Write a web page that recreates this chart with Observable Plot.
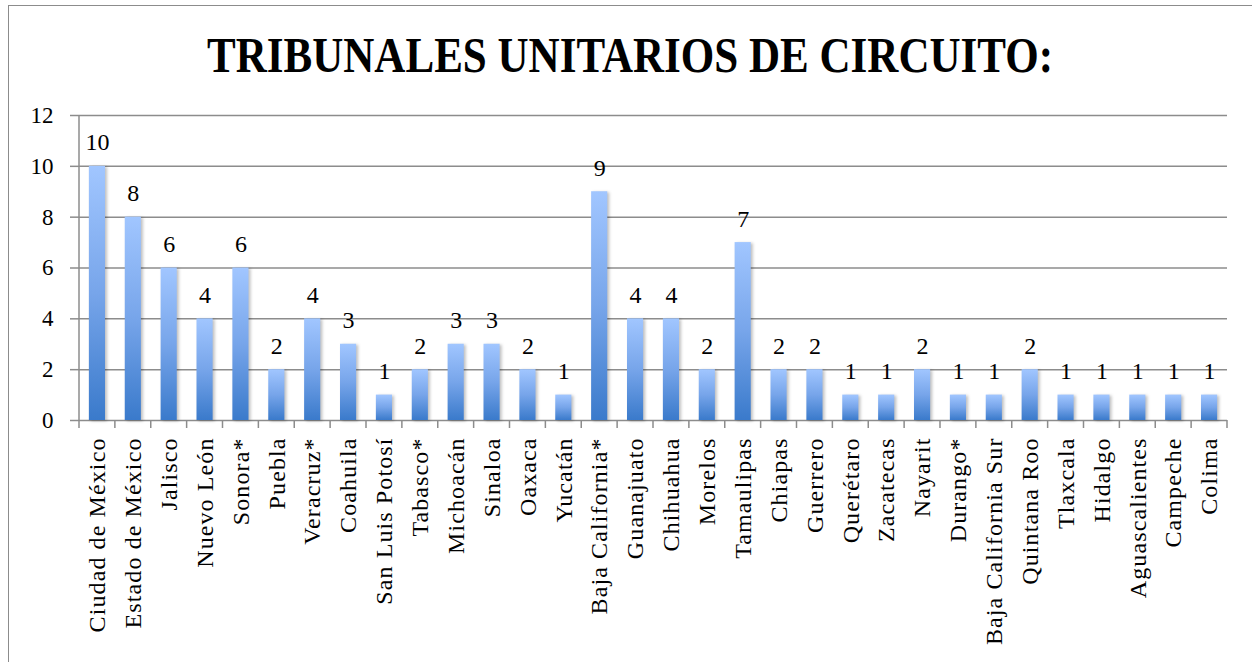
<!DOCTYPE html>
<html>
<head>
<meta charset="utf-8">
<script src="https://cdn.jsdelivr.net/npm/d3@7"></script>
<script src="https://cdn.jsdelivr.net/npm/@observablehq/plot@0.6"></script>
<style>
  body { margin: 0; background: #fff; width: 1252px; height: 662px; overflow: hidden; position: relative; }
  #frame { position: absolute; left: 8px; top: 5px; width: 1300px; height: 720px; border: 1.5px solid #8c8c8c; box-sizing: border-box; }
  #title { position: absolute; left: 0; top: 0; }
  #chart { position: absolute; left: 0; top: 100px; }
  #chart svg, #chart text { font-family: "Liberation Serif", serif !important; }
  g[fill="url(#barGrad)"] rect { filter: drop-shadow(2px 1px 1.5px rgba(0,0,0,0.25)); }
  #chart g[aria-label="x-axis tick label"] text { letter-spacing: 1.1px; }
</style>
</head>
<body>
<div id="frame"></div>
<svg id="title" width="1252" height="100">
  <text x="630" y="72" text-anchor="middle" textLength="846" lengthAdjust="spacingAndGlyphs"
        font-family="Liberation Serif" font-weight="bold" font-size="50" fill="#000">TRIBUNALES UNITARIOS DE CIRCUITO:</text>
</svg>
<div id="chart"></div>
<script>
const categories = ["Ciudad de México","Estado de México","Jalisco","Nuevo León","Sonora*","Puebla","Veracruz*","Coahuila","San Luis Potosí","Tabasco*","Michoacán","Sinaloa","Oaxaca","Yucatán","Baja California*","Guanajuato","Chihuahua","Morelos","Tamaulipas","Chiapas","Guerrero","Querétaro","Zacatecas","Nayarit","Durango*","Baja California Sur","Quintana Roo","Tlaxcala","Hidalgo","Aguascalientes","Campeche","Colima"];
const values = [10,8,6,4,6,2,4,3,1,2,3,3,2,1,9,4,4,2,7,2,2,1,1,2,1,1,2,1,1,1,1,1];
const yTicks = [0,2,4,6,8,10,12];

const data = categories.map((name, i) => ({name, value: values[i]}));
const FONT = "Liberation Serif";
const GRID = "#8c8c8c";

function defsMark() {
  const ns = "http://www.w3.org/2000/svg";
  const g = document.createElementNS(ns, "g");
  const defs = document.createElementNS(ns, "defs");
  const lg = document.createElementNS(ns, "linearGradient");
  lg.setAttribute("id", "barGrad");
  lg.setAttribute("x1", "0"); lg.setAttribute("y1", "0");
  lg.setAttribute("x2", "0"); lg.setAttribute("y2", "1");
  [["0%", "#a1c6ff"], ["50%", "#77a5ea"], ["100%", "#3a7acb"]].forEach(([o, c]) => {
    const s = document.createElementNS(ns, "stop");
    s.setAttribute("offset", o); s.setAttribute("stop-color", c);
    lg.appendChild(s);
  });
  defs.appendChild(lg);
  g.appendChild(defs);
  return g;
}

// y-axis line and category-boundary ticks, placed from the x scale
function frameTicks(index, scales, values, dims) {
  const ns = "http://www.w3.org/2000/svg";
  const g = document.createElementNS(ns, "g");
  g.setAttribute("stroke", GRID);
  g.setAttribute("stroke-width", "1.5");
  const left = dims.marginLeft, right = dims.width - dims.marginRight;
  const top = dims.marginTop, bottom = dims.height - dims.marginBottom;
  const line = (x1, y1, x2, y2) => {
    const l = document.createElementNS(ns, "line");
    l.setAttribute("x1", x1); l.setAttribute("y1", y1);
    l.setAttribute("x2", x2); l.setAttribute("y2", y2);
    g.appendChild(l);
  };
  line(left, top, left, bottom);
  const bw = scales.x.bandwidth ? scales.x.bandwidth() : 0;
  const centers = categories.map(c => scales.x(c) + bw / 2);
  const step = centers.length > 1 ? centers[1] - centers[0] : (right - left);
  line(centers[0] - step / 2, bottom, centers[0] - step / 2, bottom + 8);
  centers.forEach(cx => line(cx + step / 2, bottom, cx + step / 2, bottom + 8));
  return g;
}

const plot = Plot.plot({
  width: 1252,
  height: 562,
  marginTop: 15,
  marginBottom: 242,
  marginLeft: 79,
  marginRight: 25,
  style: {fontFamily: FONT, fontSize: "23px", color: "#000", background: "transparent"},
  x: {domain: categories, paddingInner: 0.55, paddingOuter: 0.275, round: false, label: null},
  y: {domain: [0, 12], label: null},
  marks: [
    defsMark,
    Plot.gridY(yTicks, {stroke: GRID, strokeOpacity: 1, strokeWidth: 1.5}),
    Plot.axisY(yTicks, {tickSize: 9, tickPadding: 17, stroke: GRID, strokeWidth: 1.5, fill: "#000", fontSize: 23, fontFamily: FONT, label: null}),
    frameTicks,
    Plot.barY(data, {x: "name", y: "value", fill: "url(#barGrad)"}),
    Plot.text(data, {x: "name", y: "value", text: d => String(d.value), dy: -16, lineAnchor: "bottom", fontSize: 24, fontFamily: FONT, fill: "#000"}),
    Plot.axisX({tickSize: 0, tickPadding: 17, tickRotate: -90, fontSize: 24, fontFamily: FONT, fill: "#000", label: null})
  ]
});
document.getElementById("chart").appendChild(plot);
</script>
</body>
</html>
